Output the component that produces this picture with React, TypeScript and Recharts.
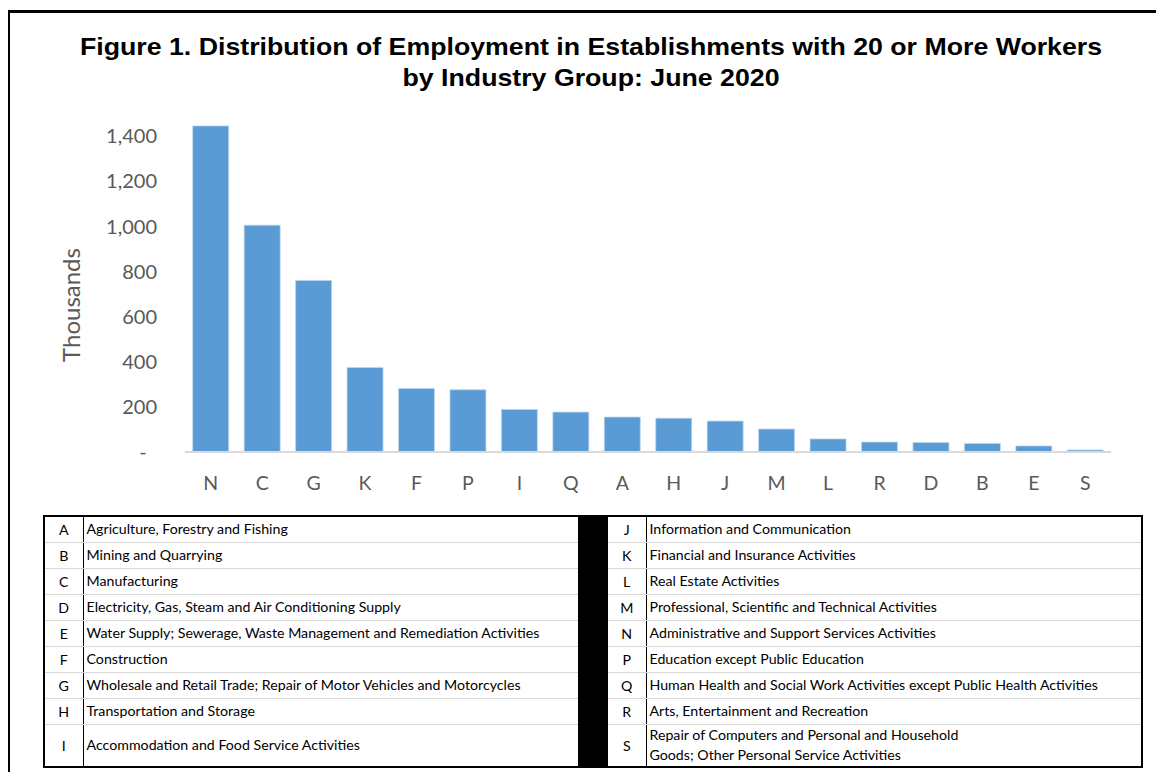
import { Bar, BarChart, XAxis, YAxis } from "recharts";

const categories = ["N", "C", "G", "K", "F", "P", "I", "Q", "A", "H", "J", "M", "L", "R", "D", "B", "E", "S"];
const employment = [1446, 1006, 761, 375, 282, 276, 189, 177, 155, 150, 137, 102, 58, 44, 42, 38, 27, 9];
const yTicks = [0, 200, 400, 600, 800, 1000, 1200, 1400];

const leftCodes = ["A", "B", "C", "D", "E", "F", "G", "H", "I"];
const leftNames = [
  "Agriculture, Forestry and Fishing",
  "Mining and Quarrying",
  "Manufacturing",
  "Electricity, Gas, Steam and Air Conditioning Supply",
  "Water Supply; Sewerage, Waste Management and Remediation Activities",
  "Construction",
  "Wholesale and Retail Trade; Repair of Motor Vehicles and Motorcycles",
  "Transportation and Storage",
  "Accommodation and Food Service Activities",
];
const rightCodes = ["J", "K", "L", "M", "N", "P", "Q", "R", "S"];
const rightNames = [
  "Information and Communication",
  "Financial and Insurance Activities",
  "Real Estate Activities",
  "Professional, Scientific and Technical Activities",
  "Administrative and Support Services Activities",
  "Education except Public Education",
  "Human Health and Social Work Activities except Public Health Activities",
  "Arts, Entertainment and Recreation",
  "Repair of Computers and Personal and Household\nGoods; Other Personal Service Activities",
];

const chartData = categories.map((code, i) => ({ code, value: employment[i] }));

const axisFont = "Lato, 'Noto Sans', sans-serif";
const fmt = (v: number) => (v === 0 ? "-\u00a0\u00a0" : v.toLocaleString("en-US"));

const vLine = "1.5px solid #000";
const hLine = "1px solid #d9d9d9";

function LegendTable() {
  const rowH = (i: number) => (i === leftCodes.length - 1 ? 43 : 26);
  const codeCell = (last: boolean): React.CSSProperties => ({
    textAlign: "center",
    borderRight: vLine,
    borderBottom: last ? "none" : hLine,
    padding: 0,
  });
  const textCell = (last: boolean): React.CSSProperties => ({
    borderBottom: last ? "none" : hLine,
    padding: "0 0 0 3px",
    whiteSpace: "pre-line",
    lineHeight: "20px",
  });
  return (
    <table
      style={{
        position: "absolute",
        left: 43,
        top: 515,
        width: 1098,
        borderCollapse: "collapse",
        tableLayout: "fixed",
        border: "2px solid #000",
        fontFamily: axisFont,
        fontSize: 14.2,
        color: "#000",
      }}
    >
      <colgroup>
        <col style={{ width: 39 }} />
        <col style={{ width: 495 }} />
        <col style={{ width: 30 }} />
        <col style={{ width: 38 }} />
        <col style={{ width: 496 }} />
      </colgroup>
      <tbody>
        {leftCodes.map((code, i) => {
          const last = i === leftCodes.length - 1;
          return (
            <tr key={code} style={{ height: rowH(i) }}>
              <td style={codeCell(last)}>{code}</td>
              <td style={textCell(last)}>{leftNames[i]}</td>
              {i === 0 && <td rowSpan={leftCodes.length} style={{ background: "#000", padding: 0 }} />}
              <td style={codeCell(last)}>{rightCodes[i]}</td>
              <td style={textCell(last)}>{rightNames[i]}</td>
            </tr>
          );
        })}
      </tbody>
    </table>
  );
}

export default function App() {
  return (
    <div
      style={{
        position: "relative",
        width: 1164,
        height: 780,
        margin: -8,
        overflow: "hidden",
        background: "#fff",
      }}
    >
      <div
        style={{
          position: "absolute",
          left: 7,
          top: 10,
          width: 1300,
          height: 900,
          border: "3px solid #000",
        }}
      />
      <div
        style={{
          position: "absolute",
          left: 0,
          top: 31,
          width: 1182,
          textAlign: "center",
          fontFamily: "'Liberation Sans', Arial, sans-serif",
          fontWeight: "bold",
          fontSize: 24,
          lineHeight: "31px",
          color: "#000",
          transform: "scaleX(1.113)",
          transformOrigin: "591px 0",
        }}
      >
        Figure 1. Distribution of Employment in Establishments with 20 or More Workers
        <br />
        by Industry Group: June 2020
      </div>
      <div
        style={{
          position: "absolute",
          left: 70,
          top: 305,
          transform: "translate(-50%, -50%) rotate(-90deg)",
          fontFamily: axisFont,
          fontSize: 24,
          color: "#595959",
          whiteSpace: "nowrap",
        }}
      >
        Thousands
      </div>
      <div style={{ position: "absolute", left: 0, top: 0 }}>
        <BarChart
          width={1164}
          height={500}
          data={chartData}
          margin={{ top: 125, right: 53, bottom: 0, left: 125 }}
          barCategoryGap="15%"
        >
          <XAxis
            dataKey="code"
            height={48}
            tickLine={false}
            tickSize={0}
            tickMargin={24}
            axisLine={{ stroke: "#d9d9d9", strokeWidth: 2 }}
            tick={{ fill: "#595959", fontSize: 19.5, fontFamily: axisFont }}
            interval={0}
          />
          <YAxis
            width={60}
            domain={[0, 1450]}
            ticks={yTicks}
            tickFormatter={fmt}
            axisLine={false}
            tickLine={false}
            tickSize={0}
            tickMargin={28}
            tick={{ fill: "#595959", fontSize: 20, fontFamily: axisFont }}
            allowDataOverflow
          />
          <Bar dataKey="value" fill="#5b9bd5" stroke="#bdd7ee" strokeWidth={0.75} isAnimationActive={false} />
        </BarChart>
      </div>
      <LegendTable />
    </div>
  );
}
